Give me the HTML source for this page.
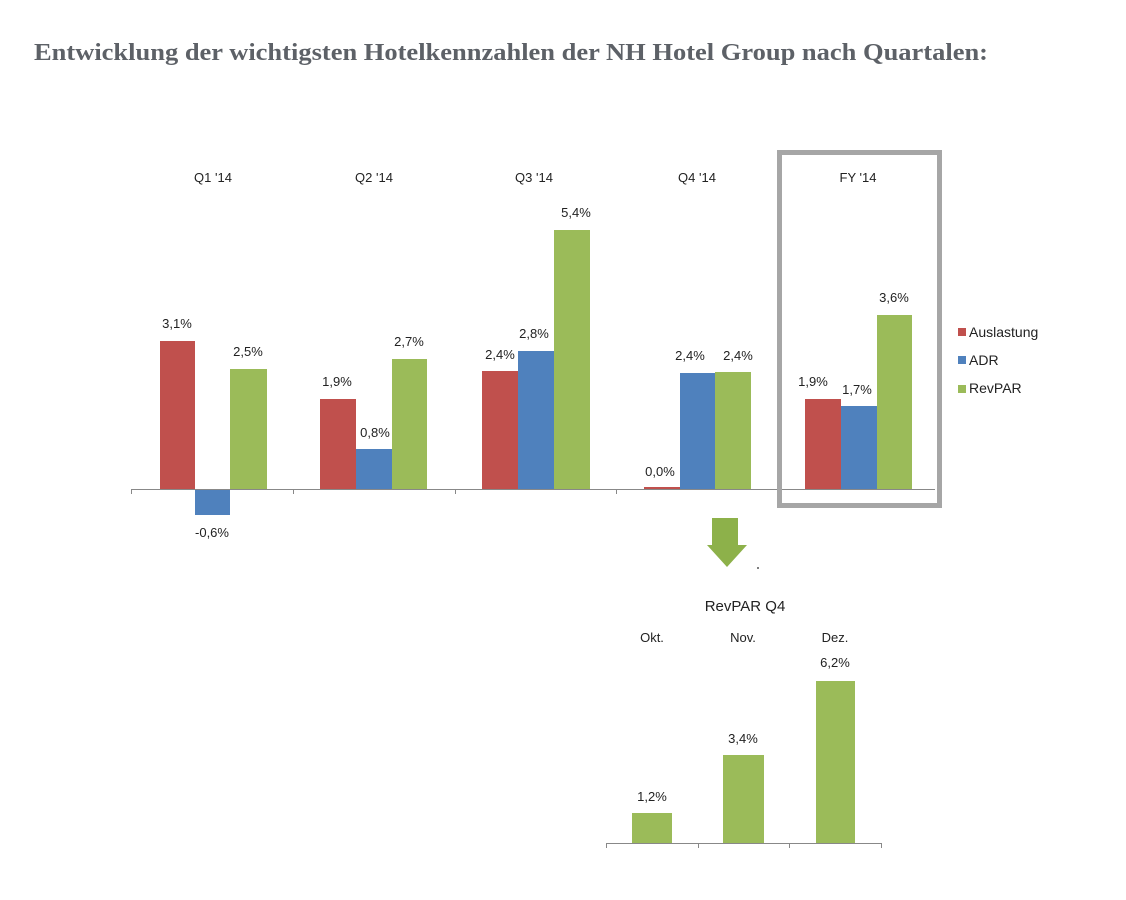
<!DOCTYPE html>
<html><head><meta charset="utf-8"><style>
html,body{margin:0;padding:0;background:#fff;width:1126px;height:900px;overflow:hidden}
svg text{font-family:"Liberation Sans",sans-serif;fill:#222}
</style></head><body>
<svg width="1126" height="900" xmlns="http://www.w3.org/2000/svg">
<text x="34" y="60" textLength="954" lengthAdjust="spacingAndGlyphs" style="font-family:'Liberation Serif',serif;font-weight:bold;font-size:24px;fill:#5d6167">Entwicklung der wichtigsten Hotelkennzahlen der NH Hotel Group nach Quartalen:</text>

<g font-size="13" text-anchor="middle">
<text x="213" y="182">Q1 '14</text>
<text x="374" y="182">Q2 '14</text>
<text x="534" y="182">Q3 '14</text>
<text x="697" y="182">Q4 '14</text>
<text x="858" y="182">FY '14</text>
</g>

<!-- bars -->
<g>
<rect x="160" y="341" width="35" height="148" fill="#c0504d"/>
<rect x="195" y="489" width="35" height="26" fill="#4f81bd"/>
<rect x="230" y="369" width="37" height="120" fill="#9bbb59"/>

<rect x="320" y="399" width="36" height="90" fill="#c0504d"/>
<rect x="356" y="449" width="36" height="40" fill="#4f81bd"/>
<rect x="392" y="359" width="35" height="130" fill="#9bbb59"/>

<rect x="482" y="371" width="36" height="118" fill="#c0504d"/>
<rect x="518" y="351" width="36" height="138" fill="#4f81bd"/>
<rect x="554" y="230" width="36" height="259" fill="#9bbb59"/>

<rect x="644" y="487" width="36" height="2" fill="#c0504d"/>
<rect x="680" y="373" width="35" height="116" fill="#4f81bd"/>
<rect x="715" y="372" width="36" height="117" fill="#9bbb59"/>

<rect x="805" y="399" width="36" height="90" fill="#c0504d"/>
<rect x="841" y="406" width="36" height="83" fill="#4f81bd"/>
<rect x="877" y="315" width="35" height="174" fill="#9bbb59"/>
</g>

<line x1="131" y1="489.5" x2="935" y2="489.5" stroke="#888" stroke-width="1"/>
<g stroke="#888"><line x1="131.5" y1="489" x2="131.5" y2="494"/><line x1="293.5" y1="489" x2="293.5" y2="494"/><line x1="455.5" y1="489" x2="455.5" y2="494"/><line x1="616.5" y1="489" x2="616.5" y2="494"/></g>

<g font-size="13" text-anchor="middle">
<text x="177" y="328">3,1%</text>
<text x="212" y="537">-0,6%</text>
<text x="248" y="356">2,5%</text>
<text x="337" y="386">1,9%</text>
<text x="375" y="437">0,8%</text>
<text x="409" y="346">2,7%</text>
<text x="500" y="359">2,4%</text>
<text x="534" y="338">2,8%</text>
<text x="576" y="217">5,4%</text>
<text x="660" y="476">0,0%</text>
<text x="690" y="360">2,4%</text>
<text x="738" y="360">2,4%</text>
<text x="813" y="386">1,9%</text>
<text x="857" y="394">1,7%</text>
<text x="894" y="302">3,6%</text>
</g>

<rect x="779.5" y="152.5" width="160" height="353" fill="none" stroke="#a6a6a6" stroke-width="5"/>

<!-- legend -->
<rect x="958" y="328" width="8" height="8" fill="#c0504d"/>
<rect x="958" y="356" width="8" height="8" fill="#4f81bd"/>
<rect x="958" y="385" width="8" height="8" fill="#9bbb59"/>
<g font-size="14"><text x="969" y="337">Auslastung</text><text x="969" y="365">ADR</text><text x="969" y="393">RevPAR</text></g>

<!-- arrow -->
<polygon points="712,518 738,518 738,545 747,545 727,567 707,545 712,545" fill="#8db14a"/>
<circle cx="758" cy="568" r="1" fill="#555"/>

<text x="745" y="611" font-size="15" text-anchor="middle">RevPAR Q4</text>
<g font-size="13" text-anchor="middle">
<text x="652" y="642">Okt.</text><text x="743" y="642">Nov.</text><text x="835" y="642">Dez.</text>
<text x="835" y="667">6,2%</text><text x="743" y="743">3,4%</text><text x="652" y="801">1,2%</text>
</g>
<rect x="632" y="813" width="40" height="30" fill="#9bbb59"/>
<rect x="723" y="755" width="41" height="88" fill="#9bbb59"/>
<rect x="816" y="681" width="39" height="162" fill="#9bbb59"/>
<line x1="606" y1="843.5" x2="882" y2="843.5" stroke="#888"/>
<g stroke="#888"><line x1="606.5" y1="843" x2="606.5" y2="848"/><line x1="698.5" y1="843" x2="698.5" y2="848"/><line x1="789.5" y1="843" x2="789.5" y2="848"/><line x1="881.5" y1="843" x2="881.5" y2="848"/></g>
</svg>
</body></html>
